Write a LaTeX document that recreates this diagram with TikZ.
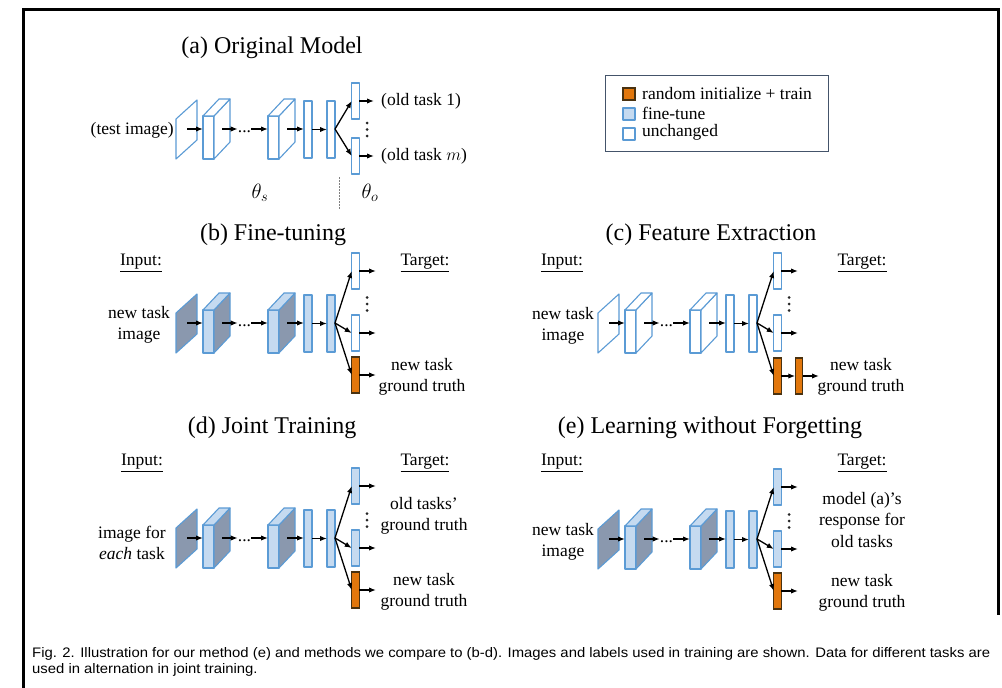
\documentclass[tikz,border=0pt]{standalone}
\usepackage{graphicx}
\usepackage{fontspec}
\setmainfont{Liberation Serif}
\newfontfamily\capfont{Liberation Sans}
\usetikzlibrary{arrows.meta}
\definecolor{lblue}{HTML}{5B9BD5}
\definecolor{ftfill}{HTML}{C5DAF0}
\definecolor{sidegray}{HTML}{8A98AE}
\definecolor{orng}{HTML}{E2770C}
\definecolor{orngline}{HTML}{4A3210}
\definecolor{legline}{HTML}{44546A}
\newcommand\bodyfs{\fontsize{17.5}{21.5}\selectfont}
\newcommand\titlefs{\fontsize{24}{28}\selectfont}
\newcommand\capfs{\capfont\fontsize{13.8}{15}\selectfont}
\newcommand\capone{Fig. 2. Illustration for our method (e) and methods we compare to (b-d). Images and labels used in training are shown. Data for different tasks are}
\newlength\capw
\tikzset{
  lay/.style={draw=lblue, line width=1.1pt, line join=round},
  unch/.style={lay, fill=white},
  fine/.style={lay, fill=ftfill},
  dark/.style={lay, fill=sidegray},
  newl/.style={draw=orngline, line width=1.1pt, fill=orng},
  fc/.style={inner sep=0pt, outer sep=0pt, minimum width=8pt, minimum height=57pt},
  hd/.style={inner sep=0pt, outer sep=0pt, minimum width=7.5pt, minimum height=36pt},
  arr/.style={-{Latex[length=7pt,width=5.4pt]}, line width=1.3pt},
  txt/.style={inner sep=0pt, font=\bodyfs, align=center},
  ttl/.style={inner sep=0pt, font=\titlefs},
  lbl/.style={inner sep=0pt, font=\bodyfs},
  vdot/.style={fill=black!85},
}
% #1 name, #2 x, #3 front/top style, #4 side style
\newcommand\cuboid[4]{%
  \node[#3, inner sep=0pt, outer sep=0pt, minimum width=11pt, minimum height=43pt, anchor=south west] (#1) at (#2,30) {};
  \draw[#4] (#1.north east) -- ++(16,-17) -- ++(0,43) -- (#1.south east) -- cycle;
  \draw[#3] (#1.north west) -- ++(16,-17) -- ++(11,0) -- (#1.north east) -- cycle;
}
% #1 prefix, #2 slab style, #3 front style, #4 side style
\newcommand\trunk[4]{%
  \draw[#2] (176,30) -- (176,-10) -- (197,-29) -- (197,11) -- cycle;
  \coordinate (#1s) at (187,0);
  \coordinate (#1o1) at (222,0);
  \coordinate (#1o2) at (287,0);
  \cuboid{#1c1}{203}{#3}{#4}
  \cuboid{#1c2}{268}{#3}{#4}
  \node[#3, fc] (#1f1) at (308,0.5) {};
  \node[#3, fc] (#1f2) at (331,0.5) {};
  \node[inner sep=0pt, font=\bodyfs] (#1d) at (244.5,3) {...};
  \coordinate (#1x) at (335,0);
  \draw[arr] (#1s) -- (#1s -| #1c1.west);
  \draw[arr] (#1o1) -- (#1o1 -| #1d.west);
  \draw[arr] (#1o1 -| #1d.east) -- (#1o1 -| #1c2.west);
  \draw[arr] (#1o2) -- (#1o2 -| #1f1.west);
  \draw[arr] (#1f1.east) -- (#1f2.west);
}
% vertical dots centred at (#1,#2)
\newcommand\vdts[2]{%
  \fill[vdot] (#1,#2-6.5) circle (1.5) (#1,#2) circle (1.5) (#1,#2+6.5) circle (1.5);
}
\begin{document}
\settowidth\capw{\capfs\capone}%
\pgfmathsetmacro\capsx{958/\capw}%
\begin{tikzpicture}[x=1pt,y=-1pt]
\useasboundingbox (0,0) rectangle (1002,688);
\fill[white] (0,0) rectangle (1002,688);
% frame
\draw[line width=3pt] (23.5,688) -- (23.5,9.5) -- (998.5,9.5) -- (998.5,615);

% ---------------- (a) ----------------
\node[ttl] (ta) at (272,48) {(a) Original Model};
\begin{scope}[shift={(0,129)}]
  \trunk{a}{unch}{unch}{unch}
  \node[unch, hd] (ah1) at (355.5,-28) {};
  \node[unch, hd] (ah2) at (355.5,27) {};
  \draw[arr] (ax) -- (ah1.west);
  \draw[arr] (ax) -- (ah2.west);
  \coordinate (ae1) at (374,-28);
  \coordinate (ae2) at (374,27);
  \draw[arr] (ah1.east) -- (ae1);
  \draw[arr] (ah2.east) -- (ae2);
  \vdts{367}{0.5}
  \node[lbl, anchor=east] (atest) at (174,1) {(test image)};
  \node[lbl, anchor=west] (aold1) at (381,-28) {(old task 1)};
  \node[lbl, anchor=west] (aoldm) at (381,27) {(old task $m$)};
\end{scope}
\node[inner sep=0pt, font=\fontsize{20}{20}\selectfont] (ths) at (260,193) {$\theta_s$};
\node[inner sep=0pt, font=\fontsize{20}{20}\selectfont] (tho) at (370,193) {$\theta_o$};
\draw[gray, line width=1pt, dash pattern=on 1.5pt off 1.5pt] (339,177) -- (339,210);

% legend
\node[draw=legline, line width=1.3pt, inner sep=0pt, minimum width=223pt, minimum height=76pt, anchor=north west] (leg) at (605,75) {};
\node[newl, inner sep=0pt, minimum size=12pt] (lg1) at (629,94) {};
\node[fine, inner sep=0pt, minimum size=12pt] (lg2) at (629,114) {};
\node[unch, inner sep=0pt, minimum size=12pt] (lg3) at (629,134) {};
\node[lbl, anchor=west] (lt1) at (642,94) {random initialize + train};
\node[lbl, anchor=west] (lt2) at (642,113) {fine-tune};
\node[lbl, anchor=west] (lt3) at (642,132) {unchanged};

% ---------------- (b) ----------------
\node[ttl] (tb) at (273,235) {(b) Fine-tuning};
\node[lbl] (bin) at (141,263) {\underline{Input:}};
\node[lbl] (btg) at (425,263) {\underline{Target:}};
\begin{scope}[shift={(0,323)}]
  \trunk{b}{dark}{fine}{dark}
  \node[unch, hd] (bh1) at (355.5,-52) {};
  \node[unch, hd] (bh2) at (355.5,10) {};
  \node[newl, hd] (bh3) at (355.5,52) {};
  \draw[arr] (bx) -- (bh1.west);
  \draw[arr] (bx) -- (bh2.west);
  \draw[arr] (bx) -- (bh3.west);
  \coordinate (be1) at (376,-52);
  \coordinate (be2) at (376,10);
  \coordinate (be3) at (376,52);
  \draw[arr] (bh1.east) -- (be1);
  \draw[arr] (bh2.east) -- (be2);
  \draw[arr] (bh3.east) -- (be3);
  \vdts{367}{-19}
  \node[txt] (bimg) at (139,2) {new task\\image};
  \node[txt] (bgt) at (422,54) {new task\\ground truth};
\end{scope}

% ---------------- (c) ----------------
\node[ttl] (tc) at (711,235) {(c) Feature Extraction};
\node[lbl] (cin) at (562,263) {\underline{Input:}};
\node[lbl] (ctg) at (862,263) {\underline{Target:}};
\begin{scope}[shift={(422,323)}]
  \trunk{c}{unch}{unch}{unch}
  \node[unch, hd] (ch1) at (355.5,-52) {};
  \node[unch, hd] (ch2) at (355.5,10) {};
  \node[newl, hd] (ch3) at (355.5,53) {};
  \node[newl, hd] (ch4) at (377,53) {};
  \draw[arr] (cx) -- (ch1.west);
  \draw[arr] (cx) -- (ch2.west);
  \draw[arr] (cx) -- (ch3.west);
  \coordinate (ce1) at (376,-52);
  \coordinate (ce2) at (376,10);
  \coordinate (ce4) at (397,53);
  \draw[arr] (ch1.east) -- (ce1);
  \draw[arr] (ch2.east) -- (ce2);
  \draw[arr] (ch3.east) -- (ch4.west);
  \draw[arr] (ch4.east) -- (ce4);
  \vdts{367}{-19}
  \node[txt] (cimg) at (141,3) {new task\\image};
  \node[txt] (cgt) at (439,54) {new task\\ground truth};
\end{scope}

% ---------------- (d) ----------------
\node[ttl] (td) at (272,428) {(d) Joint Training};
\node[lbl] (din) at (142,463) {\underline{Input:}};
\node[lbl] (dtg) at (425,463) {\underline{Target:}};
\begin{scope}[shift={(0,538)}]
  \trunk{d}{dark}{fine}{dark}
  \node[fine, hd] (dh1) at (355.5,-52) {};
  \node[fine, hd] (dh2) at (355.5,10) {};
  \node[newl, hd] (dh3) at (355.5,52) {};
  \draw[arr] (dx) -- (dh1.west);
  \draw[arr] (dx) -- (dh2.west);
  \draw[arr] (dx) -- (dh3.west);
  \coordinate (de1) at (376,-52);
  \coordinate (de2) at (376,10);
  \coordinate (de3) at (376,52);
  \draw[arr] (dh1.east) -- (de1);
  \draw[arr] (dh2.east) -- (de2);
  \draw[arr] (dh3.east) -- (de3);
  \vdts{367}{-18}
  \node[txt] (dimg) at (132,5) {image for\\\textit{each} task};
  \node[txt] (dgo) at (424,-22) {old tasks’\\ground truth};
  \node[txt] (dgt) at (424,54) {new task\\ground truth};
\end{scope}

% ---------------- (e) ----------------
\node[ttl] (te) at (710,428) {(e) Learning without Forgetting};
\node[lbl] (ein) at (562,463) {\underline{Input:}};
\node[lbl] (etg) at (862,463) {\underline{Target:}};
\begin{scope}[shift={(422,539)}]
  \trunk{e}{dark}{fine}{dark}
  \node[fine, hd] (eh1) at (355.5,-52) {};
  \node[fine, hd] (eh2) at (355.5,10) {};
  \node[newl, hd] (eh3) at (355.5,52) {};
  \draw[arr] (ex) -- (eh1.west);
  \draw[arr] (ex) -- (eh2.west);
  \draw[arr] (ex) -- (eh3.west);
  \coordinate (ee1) at (376,-52);
  \coordinate (ee2) at (376,10);
  \coordinate (ee3) at (376,52);
  \draw[arr] (eh1.east) -- (ee1);
  \draw[arr] (eh2.east) -- (ee2);
  \draw[arr] (eh3.east) -- (ee3);
  \vdts{367}{-18}
  \node[txt] (eimg) at (141,3) {new task\\image};
  \node[txt] (ego) at (440,-19) {model (a)’s\\response for\\old tasks};
  \node[txt] (egt) at (440,54) {new task\\ground truth};
\end{scope}

% caption
\node[anchor=base west, inner sep=0pt] (cap1) at (32,657) {\scalebox{\capsx}[1]{\capfs\capone}};
\node[anchor=base west, inner sep=0pt] (cap2) at (32,673) {\scalebox{\capsx}[1]{\capfs used in alternation in joint training.}};
\end{tikzpicture}
\end{document}
